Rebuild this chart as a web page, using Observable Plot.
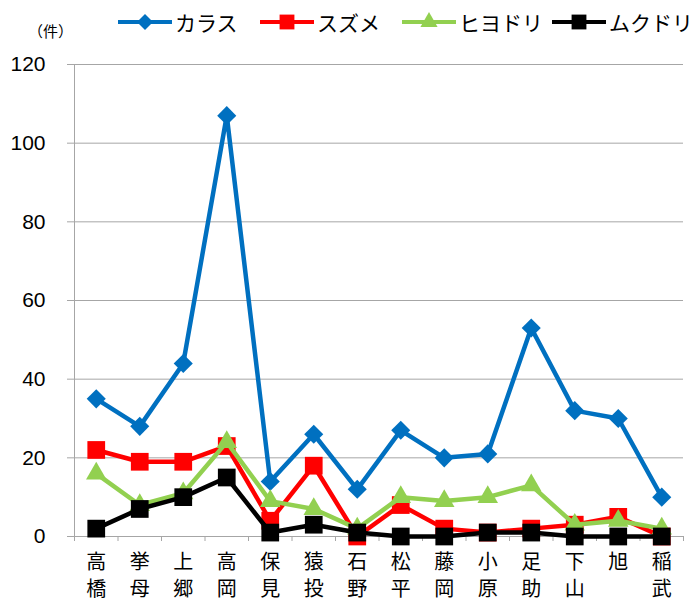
<!DOCTYPE html>
<html><head><meta charset="utf-8">
<script src="https://cdn.jsdelivr.net/npm/d3@7"></script>
<script src="https://cdn.jsdelivr.net/npm/@observablehq/plot@0.6"></script>
<style>
body{margin:0;background:#fff;}
#wrap{position:relative;width:692px;height:601px;}
#legend{position:relative;height:44px;font-family:"Noto Sans CJK JP",sans-serif;color:#000;}
.unit{position:absolute;left:28px;top:21px;font-size:15px;line-height:20px;}
.item{position:absolute;top:10px;height:24px;display:flex;align-items:center;font-size:21px;line-height:24px;white-space:nowrap;}
.item svg{display:block;}
</style></head><body>
<div id="wrap"><div id="legend"></div><div id="chart"></div></div>
<script>
const categories = ["高橋","挙母","上郷","高岡","保見","猿投","石野","松平","藤岡","小原","足助","下山","旭","稲武"];
const seriesNames = ["カラス","スズメ","ヒヨドリ","ムクドリ"];
const karasu   = [35,28,44,107,14,26,12,27,20,21,53,32,30,10];
const suzume   = [22,19,19,23,4,18,0,8,2,1,2,3,5,0];
const hiyodori = [16,8,11,24,9,7,2,10,9,10,13,3,4,2];
const mukudori = [2,7,10,15,1,3,1,0,0,1,1,0,0,0];
const yTicks = [0,20,40,60,80,100,120];
const unitLabel = "（件）";

const values = [karasu, suzume, hiyodori, mukudori];
const colors = ["#0070C0","#FF0000","#92D050","#000000"];
const plotSymbols = ["diamond2","square","triangle","square"];
const d3Symbols = [d3.symbolDiamond2, d3.symbolSquare, d3.symbolTriangle, d3.symbolSquare];
const radii = [8.6, 10, 7.6, 10];
const gridColor = "#a6a6a6";

// legend
const legend = d3.select("#legend");
legend.append("div").attr("class","unit").text(unitLabel);
const lefts = [118, 260, 402, 552];
seriesNames.forEach((name, k) => {
  const item = legend.append("div").attr("class","item").style("left", lefts[k] + "px");
  const svg = item.append("svg").attr("width", 54).attr("height", 24);
  svg.append("line").attr("x1",0).attr("x2",54).attr("y1",12).attr("y2",12)
    .attr("stroke", colors[k]).attr("stroke-width", 4);
  svg.append("path").attr("transform","translate(27,12)")
    .attr("d", d3.symbol(d3Symbols[k], Math.PI * radii[k] * radii[k] * 0.7)())
    .attr("fill", colors[k]);
  item.append("span").style("margin-left","3px").text(name);
});

const rows = seriesNames.flatMap((s, k) => values[k].map((v, i) => ({series: s, k, i, v})));
const idx = d3.range(categories.length);
const bounds = d3.range(categories.length + 1).map(i => i - 0.5);

const marks = [
  Plot.gridY(yTicks.filter(d => d > 0), {stroke: gridColor, strokeOpacity: 1}),
  Plot.ruleY([0], {stroke: gridColor}),
  Plot.ruleX([bounds[0]], {stroke: gridColor}),
  Plot.axisY(yTicks, {label: null, tickSize: 7, tickPadding: 22, stroke: gridColor, fontSize: 21, fontFamily: "Liberation Sans", fill: "#000"}),
  Plot.axisX(bounds, {label: null, tickSize: 5, tickFormat: () => "", stroke: gridColor}),
  Plot.axisX(idx, {label: null, tickSize: 0, tickPadding: 13, tickFormat: i => categories[i].split("").join("\n"),
    fontSize: 20, lineHeight: 1.35, fontFamily: "Noto Sans CJK JP", fill: "#000"})
];
seriesNames.forEach((s, k) => {
  const d = rows.filter(r => r.k === k);
  marks.push(Plot.line(d, {x: "i", y: "v", stroke: colors[k], strokeWidth: 4.5, strokeLinejoin: "round"}));
  marks.push(Plot.dot(d, {x: "i", y: "v", symbol: plotSymbols[k], r: radii[k], fill: colors[k], stroke: "none"}));
});

const chart = Plot.plot({
  width: 692,
  height: 557,
  marginTop: 20,
  marginBottom: 65,
  marginLeft: 74,
  marginRight: 9,
  x: {type: "linear", domain: [bounds[0], bounds[bounds.length - 1]], label: null},
  y: {domain: [0, 120], label: null},
  style: {fontFamily: "Liberation Sans", fontSize: "20px", background: "#fff", overflow: "visible"},
  marks
});
document.getElementById("chart").appendChild(chart);
</script>
</body></html>
